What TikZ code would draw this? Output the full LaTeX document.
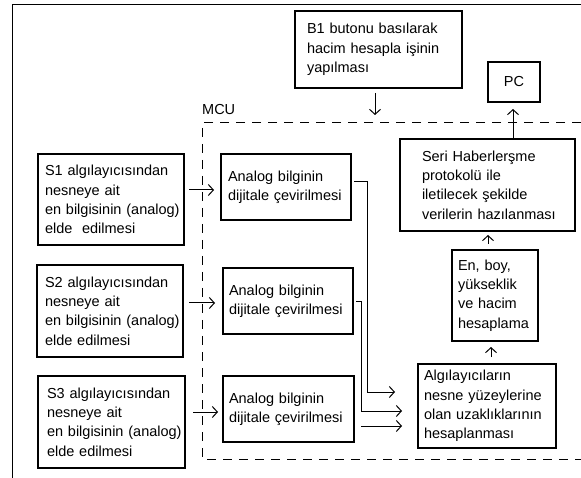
\documentclass[tikz,border=0pt]{standalone}
\usepackage{fontspec}
\setmainfont{Liberation Sans}
\usetikzlibrary{arrows.meta,calc}
\tikzset{
  txt/.style={font=\fontsize{14.5}{19.3}\selectfont},
  box/.style={txt, draw, line width=1.1pt, anchor=north west, align=left,
    inner ysep=0pt, outer sep=0pt,
    execute at begin node={\hyphenpenalty=10000\exhyphenpenalty=10000\hbadness=10000\hfuzz=100pt}},
  arr/.style={line width=1pt, -{Straight Barb[length=5pt,width=11pt]}},
  wire/.style={line width=1pt},
  mculine/.style={line width=1pt, dash pattern=on 9pt off 7pt},
}
\begin{document}
\begin{tikzpicture}[x=1pt,y=-1pt]
\useasboundingbox (0,0) rectangle (581,478);
\fill[white] (0,0) rectangle (581,478);
% outer frame
\draw[wire] (581,5) -- (12,5) -- (12,478);
% MCU dashed region
\draw[mculine] (581,123) -- (202,123) -- (202,459) -- (581,459);
\node[txt, anchor=west, inner sep=0pt] (mcu) at (202,110) {MCU};

% boxes
\node[box, minimum width=167pt, minimum height=77pt, inner xsep=12pt, text width=143pt] (B1) at (295,11)
  {B1~butonu~basılarak\\hacim~hesapla~işinin\\yapılması};
\node[box, align=center, minimum width=52pt, minimum height=40pt] (PC) at (488,62) {PC};

\node[box, minimum width=146pt, minimum height=91pt, inner xsep=7pt, text width=132pt] (S1) at (38,154)
  {S1~algılayıcısından\\nesneye~ait\\en~bilgisinin~(analog)\\elde~~edilmesi};
\node[box, minimum width=146pt, minimum height=92pt, inner xsep=8pt, text width=130pt] (S2) at (37,265)
  {S2~algılayıcısından\\nesneye~ait\\en~bilgisinin~(analog)\\elde~edilmesi};
\node[box, minimum width=147pt, minimum height=92pt, inner xsep=9pt, text width=129pt] (S3) at (38,376)
  {S3~algılayıcısından\\nesneye~ait\\en~bilgisinin~(analog)\\elde~edilmesi};

\node[box, minimum width=130pt, minimum height=66pt, inner xsep=7pt, text width=116pt] (A1) at (221,154)
  {Analog~bilginin\\dijitale~çevirilmesi};
\node[box, minimum width=130pt, minimum height=66pt, inner xsep=6pt, text width=118pt] (A2) at (223,268)
  {Analog~bilginin\\dijitale~çevirilmesi};
\node[box, minimum width=131pt, minimum height=66pt, inner xsep=6pt, text width=119pt] (A3) at (223,376)
  {Analog~bilginin\\dijitale~çevirilmesi};

\node[box, minimum width=175pt, minimum height=92pt, inner xsep=22pt, text width=131pt] (Seri) at (400,139)
  {Seri~Haberlerşme\\protokolü~ile\\iletilecek~şekilde\\verilerin~hazılanması};
\node[box, minimum width=86pt, minimum height=91pt, inner xsep=6pt, text width=74pt] (En) at (452,250)
  {En,~boy,\\yükseklik\\ve~hacim\\hesaplama};
\node[box, minimum width=138pt, minimum height=84pt, inner xsep=6pt, text width=126pt] (Alg) at (418,364)
  {Algılayıcıların\\nesne~yüzeylerine\\olan~uzaklıklarının\\hesaplanması};

% connectors
\draw[arr] ($(B1.south west)+(80,5)$) -- ($(B1.south west)+(80,27)$);
\draw[arr] ($(Seri.north west)+(113,0)$) -- ($(PC.south west)+(25,7)$);
\draw[arr] ($(En.north west)+(36,-6)$) -- ($(Seri.south west)+(88,4)$);
\draw[arr] ($(Alg.north west)+(73,-7)$) -- ($(En.south west)+(39,6)$);

\draw[arr] ($(S1.north east)+(5,36)$) -- ($(A1.north west)+(-7,36)$);
\draw[arr] ($(S2.north east)+(6,38)$) -- ($(A2.north west)+(-8,35)$);
\draw[arr] ($(S3.north east)+(8,36)$) -- ($(A3.north west)+(-5,36)$);

\draw[arr] ($(A1.north east)+(3,28)$) -| ($(Alg.north west)+(-51,28)$) -- ($(Alg.north west)+(-23,28)$);
\draw[arr] ($(A2.north east)+(3,34)$) -| ($(Alg.north west)+(-57,47)$) -- ($(Alg.north west)+(-16,47)$);
\draw[arr] ($(A3.north east)+(7,50)$) -- ($(Alg.north west)+(-16,62)$);
\end{tikzpicture}
\end{document}
